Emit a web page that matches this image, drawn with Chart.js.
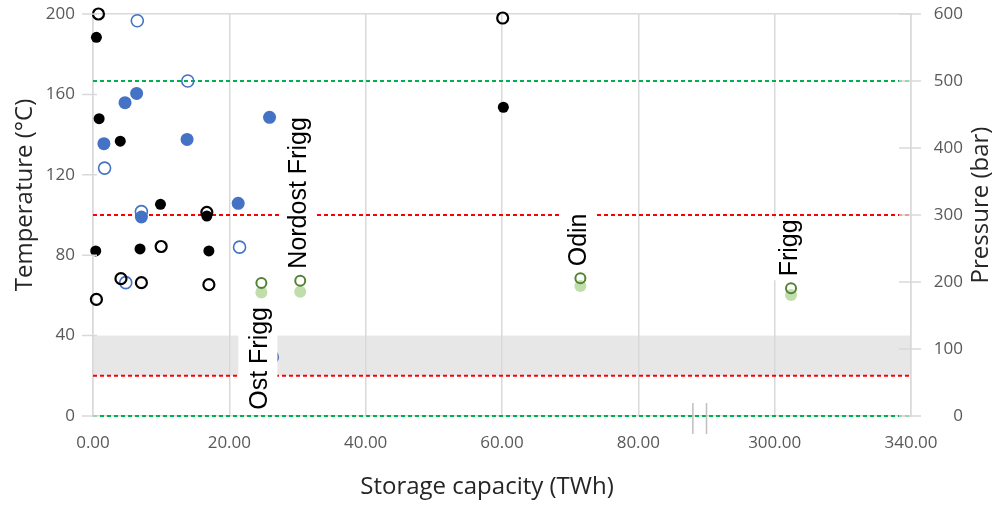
<!DOCTYPE html>
<html>
<head>
<meta charset="utf-8">
<script src="https://cdn.jsdelivr.net/npm/chart.js@4.4.1/dist/chart.umd.min.js"></script>
<style>
  html, body { margin: 0; padding: 0; background: #fff; }
</style>
</head>
<body>
<canvas id="chart" width="996" height="505"></canvas>
<script>
// storage capacity (TWh) vs temperature (filled marks) and pressure (open marks)

// black group
const blackTempX = [0.5, 0.9, 4.0, 0.4, 6.9, 9.9, 16.7, 17.0, 60.2]
const blackTemp = [188.4, 147.9, 136.7, 82.1, 83.1, 105.3, 99.5, 82.1, 153.6]
const blackPresX = [0.8, 0.5, 4.1, 7.1, 10.0, 16.7, 17.0, 60.1]
const blackPres = [600, 174, 205, 199, 253, 304, 196, 594]

// blue group
const blueTempX = [1.6, 4.7, 6.4, 7.1, 13.8, 21.3, 25.9]
const blueTemp = [135.5, 155.9, 160.5, 99.0, 137.6, 105.8, 148.6]
const bluePresX = [6.5, 13.9, 1.7, 7.1, 4.8, 21.5, 26.3]
const bluePres = [590, 500, 370, 305, 199, 252, 88]

// green group, named fields
const fieldNames = ['Ost Frigg', 'Nordost Frigg', 'Odin', 'Frigg']
const fieldX = [24.7, 30.4, 71.5, 304.8]
const fieldTemp = [61.5, 61.8, 64.7, 60.2]
const fieldPres = [198.5, 202, 205.5, 190.6]

// limit lines + grey band
const tempLimits = [20, 100]
const presLimits = [0, 500]
const tempBand = [20, 40]

// axes
const xTickValues = [0, 20, 40, 60, 80, 300, 340]
const xTickLabels = ['0.00', '20.00', '40.00', '60.00', '80.00', '300.00', '340.00']
const tempTicks = [0, 40, 80, 120, 160, 200]
const presTicks = [0, 100, 200, 300, 400, 500, 600]
const axisBreak = [80, 300]

// broken x axis: after the break one tick step (20) covers 40 TWh
function toAxis(v) {
  if (v <= axisBreak[0]) return v
  return axisBreak[0] + 20 + (v - axisBreak[1]) / 2
}
const xMax = toAxis(xTickValues[xTickValues.length - 1])

function pts(xs, ys) {
  return xs.map((x, i) => ({ x: toAxis(x), y: ys[i] }))
}

function limitLine(v, axis, color) {
  return {
    type: 'line',
    data: [{ x: 0, y: v }, { x: xMax, y: v }],
    yAxisID: axis,
    borderColor: color,
    borderWidth: 2,
    borderDash: [4, 3],
    pointRadius: 0,
    order: 10,
    clip: false,
  }
}

const BLUE = '#4472c4'
const GRID = '#d9d9d9'
const NONE = 'rgba(0,0,0,0)'
const tickFont = { family: 'Open Sans', size: 17 }

// grey band, labels with white boxes, tick marks, break marks, titles
const decor = {
  id: 'decor',
  beforeDraw(chart) {
    const { ctx, chartArea: a, scales } = chart
    const top = scales.y.getPixelForValue(tempBand[1])
    const bot = scales.y.getPixelForValue(tempBand[0])
    ctx.save()
    ctx.fillStyle = '#e7e7e8'
    ctx.fillRect(a.left, top, a.right - a.left, bot - top)
    ctx.restore()
  },
  afterDatasetsDraw(chart) {
    const { ctx } = chart
    const meta = chart.getDatasetMeta(chart.data.datasets.findIndex(d => d.label === 'fieldPres'))
    ctx.save()
    ctx.font = '25px "Liberation Sans"'
    fieldNames.forEach((name, i) => {
      const p = meta.data[i]
      const w = ctx.measureText(name).width
      const below = i === 0
      const ax = p.x - 1
      const ay = below ? p.y + 24 : p.y - 12
      // white box behind the text
      ctx.fillStyle = '#fff'
      if (below) ctx.fillRect(ax - 22, ay - 4, 39, w + 8)
      else ctx.fillRect(ax - 20, ay - w - 1, 37, w + 5)
      ctx.save()
      ctx.translate(ax, ay)
      ctx.rotate(-Math.PI / 2)
      ctx.fillStyle = '#000'
      ctx.textBaseline = 'middle'
      ctx.textAlign = below ? 'right' : 'left'
      ctx.fillText(name, 0, 0)
      ctx.restore()
    })
    ctx.restore()
  },
  afterDraw(chart) {
    const { ctx, chartArea: a, scales } = chart
    ctx.save()
    ctx.strokeStyle = GRID
    ctx.lineWidth = 1.5
    ctx.beginPath()
    scales.y.ticks.forEach(t => {
      const py = scales.y.getPixelForValue(t.value)
      ctx.moveTo(a.left - 11, py)
      ctx.lineTo(a.left + 4, py)
    })
    scales.y2.ticks.forEach(t => {
      const py = scales.y2.getPixelForValue(t.value)
      ctx.moveTo(a.right - 12, py)
      ctx.lineTo(a.right + 10, py)
    })
    ctx.stroke()

    // break marks between 80 and 300
    const mid = (axisBreak[0] + toAxis(axisBreak[1])) / 2
    ctx.strokeStyle = '#bfbfbf'
    ctx.beginPath()
    ;[mid - 2, mid].forEach(v => {
      const px = scales.x.getPixelForValue(v)
      ctx.moveTo(px, a.bottom - 13)
      ctx.lineTo(px, a.bottom + 18)
    })
    ctx.stroke()

    // axis titles
    ctx.fillStyle = '#262626'
    ctx.font = '24px "Open Sans"'
    ctx.textAlign = 'center'
    ctx.textBaseline = 'middle'
    ctx.fillText('Storage capacity (TWh)', 487, 487)
    ctx.save()
    ctx.translate(25, 195)
    ctx.rotate(-Math.PI / 2)
    ctx.fillText('Temperature (°C)', 0, 0)
    ctx.restore()
    ctx.save()
    ctx.translate(981, 205)
    ctx.rotate(-Math.PI / 2)
    ctx.fillText('Pressure (bar)', 0, 0)
    ctx.restore()
    ctx.restore()
  },
}

function main() {
  const datasets = [
    limitLine(tempLimits[0], 'y', '#ff0000'),
    limitLine(tempLimits[1], 'y', '#ff0000'),
    limitLine(presLimits[0], 'y2', '#00b050'),
    limitLine(presLimits[1], 'y2', '#00b050'),
    { label: 'blackTemp', data: pts(blackTempX, blackTemp), yAxisID: 'y',
      pointRadius: 5.5, backgroundColor: '#000', borderWidth: 0, order: 5, clip: false },
    { label: 'blueTemp', data: pts(blueTempX, blueTemp), yAxisID: 'y',
      pointRadius: 6.5, backgroundColor: BLUE, borderWidth: 0, order: 5, clip: false },
    { label: 'fieldTemp', data: pts(fieldX, fieldTemp), yAxisID: 'y',
      pointRadius: 6, backgroundColor: '#c0deab', borderWidth: 0, order: 5, clip: false },
    { label: 'blackPres', data: pts(blackPresX, blackPres), yAxisID: 'y2',
      pointRadius: 5.5, backgroundColor: NONE, borderColor: '#000', borderWidth: 2.2, order: 1, clip: false },
    { label: 'bluePres', data: pts(bluePresX, bluePres), yAxisID: 'y2',
      pointRadius: 6, backgroundColor: NONE, borderColor: BLUE, borderWidth: 1.6, order: 1, clip: false },
    { label: 'fieldPres', data: pts(fieldX, fieldPres), yAxisID: 'y2',
      pointRadius: 5, backgroundColor: NONE, borderColor: '#548235', borderWidth: 2, order: 1, clip: false },
  ]

  new Chart(document.getElementById('chart'), {
    type: 'scatter',
    data: { datasets },
    plugins: [decor],
    options: {
      responsive: false,
      animation: false,
      layout: { padding: { top: 14, right: 33, left: 0, bottom: 0 } },
      plugins: { legend: { display: false }, tooltip: { enabled: false } },
      scales: {
        x: {
          type: 'linear', min: 0, max: xMax,
          afterBuildTicks: s => { s.ticks = xTickValues.map(v => ({ value: toAxis(v) })) },
          afterFit: s => { s.height = 89 },
          ticks: { callback: (v, i) => xTickLabels[i], font: tickFont, color: '#595959',
            padding: 17, maxRotation: 0, autoSkip: false },
          grid: { color: GRID, lineWidth: 1.5, drawTicks: false },
          border: { color: GRID, width: 1.5 },
        },
        // tick spacing comes from a transparent tick length, ticks.padding would shrink the plot
        y: {
          position: 'left', min: 0, max: 200,
          afterBuildTicks: s => { s.ticks = tempTicks.map(v => ({ value: v })) },
          afterFit: s => { s.width = 93 },
          ticks: { font: tickFont, color: '#595959', padding: 0 },
          grid: { drawTicks: true, tickLength: 18, tickColor: NONE, lineWidth: 1.5,
            color: c => (c.tick && c.tick.value === 200 ? GRID : NONE) },
          border: { color: GRID, width: 1.5 },
        },
        y2: {
          position: 'right', min: 0, max: 600,
          afterBuildTicks: s => { s.ticks = presTicks.map(v => ({ value: v })) },
          afterFit: s => { s.width = 52 },
          ticks: { font: tickFont, color: '#595959', padding: 0, crossAlign: 'far' },
          grid: { drawOnChartArea: false, drawTicks: true, tickLength: 21, tickColor: NONE },
          border: { color: GRID, width: 1.5 },
        },
      },
    },
  })
}
main()
</script>
</body>
</html>
